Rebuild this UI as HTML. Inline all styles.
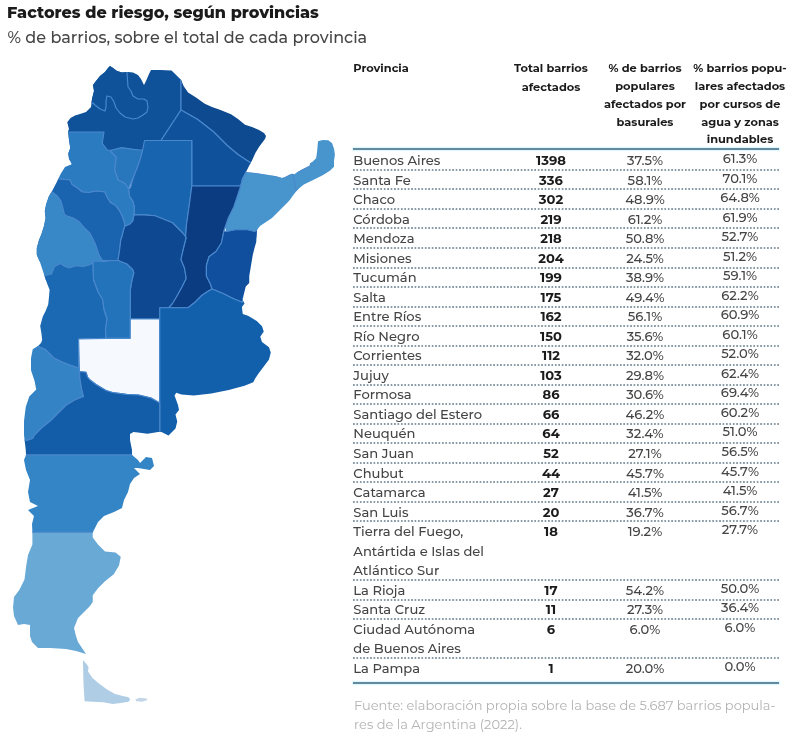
<!DOCTYPE html>
<html lang="es"><head><meta charset="utf-8"><title>Factores de riesgo, según provincias</title>
<style>
*{margin:0;padding:0;box-sizing:border-box}
html,body{width:800px;height:744px;background:#fff;overflow:hidden}
body{position:relative;font-family:"Montserrat","Liberation Sans",sans-serif;color:#333}
.title{position:absolute;left:7.0px;top:3.0px;font-size:16.0px;font-weight:800;color:#1b1b1b;line-height:20px;white-space:nowrap}
.sub{position:absolute;left:7.5px;top:27.4px;font-size:16.05px;font-weight:470;color:#464646;line-height:20px;white-space:nowrap}
.map{position:absolute;left:0;top:0;filter:blur(0.45px)}
.h{position:absolute;font-size:11.4px;font-weight:700;color:#1b1b1b;line-height:18px;white-space:nowrap;text-align:center}
.h1{left:353.2px;text-align:left}
.h2{left:501px;width:100px}
.h3{left:595px;width:100px}
.h4{left:690px;width:100px}
.c1,.c2,.c3,.c4{position:absolute;font-size:13.1px;line-height:19.53px;white-space:nowrap;color:#444;font-weight:500}
.c1{left:353.3px}
.c2{left:501px;width:100px;text-align:center;font-weight:700;color:#1b1b1b}
.c3{left:595px;width:100px;text-align:center}
.c4{left:690px;width:100px;text-align:center}
.dot{position:absolute;left:353px;width:426.5px;height:2px;background-image:linear-gradient(to right,#8a9ba6 56%,rgba(255,255,255,0) 56%);background-size:3.43px 2px}
.rule{position:absolute;left:353px;width:426px;height:2px;background:#638a9f;box-shadow:0 0 1.5px 1px rgba(200,238,246,.7)}
.foot{position:absolute;left:354px;top:696px;font-size:13px;line-height:18.75px;color:#b3b3b3;white-space:nowrap}
</style></head><body>
<svg class="map" width="345" height="720" viewBox="0 0 345 720">
<defs><clipPath id="ar"><polygon points="67.25,122.25 70.5,118 75,115.5 80,114 86,112 91,107 92,99 94,91 93,85 96,81 100,76 105,72 108,68 110,66 113,68 117,71 122,72.5 128,72 133,72.5 138,75 141,79 144,85 146,81 149,74 151,70 160,70 171.5,70.5 174.1,73.1 181.1,80.1 183.75,86.25 188.1,92.4 196,97.6 204.75,103.75 212,107 220.5,109.9 231,114.25 238,119 245,124.75 252,127 259,130 264,133 266,136 265,139 262.5,142.25 259,147 255.5,152.75 252,160.6 249,166 246,172 256,173 270,175.2 275.6,176.1 282.2,178 286.9,175.2 290.7,173.3 294.5,174.2 298.2,171.4 302,168.6 307.6,164.8 312.3,162 316.1,158.2 317,152.6 317.5,146.9 318,141.3 322.7,139.9 328.3,140.3 332.1,143.2 334,148.8 334.9,154.5 334,161 334,166.7 330.2,170.5 322.7,175.2 315.2,178.9 309.5,181.7 303.9,184.6 300.1,187.4 296.3,191.2 292.6,195.9 289.8,200 288,202 284,206 280,210 276,214 272,218 266,222 260,226 257,230 256.5,236 256.25,242 254.5,248 252.75,255 251,265.5 249.25,276 249.25,283 245.75,286.5 244,293.5 243,298 242.75,300 244.5,303.5 241.9,307 242.75,314 248,315.75 256.75,321 262,326.25 263.75,331.5 260.25,336.75 262,342 269,347.25 270.75,352.5 269,359.5 263.75,366.5 258.5,373.5 255,378.75 253.25,382.25 244.5,385.75 228.75,390 211.25,393.6 193.75,395.4 181.5,394.5 176.25,392.75 174.5,395.4 178,405 179,410 175.5,414.5 177.25,421.5 175.5,428.5 168.5,435.5 161.5,432 158,432 147.5,433.75 138,432.5 133.5,432 130,434 130,440 132,450 132,455 138,460 140,463 146,457 152,458 154,466 150,470 144,469 138,468 134,468 140,474 134,478 130,484 128,492 124,500 122,508 114,512 104,516 98,522 94,530 92.75,532.25 92.75,537.5 98,544.5 105,551.5 115.5,552.4 120.75,556.75 119,565.5 113.75,574.25 105,581.25 98,588.25 92.75,595.25 92.75,602 90,606 84,612 78,618 74,628 76,636 78,642 82,648 86,654 76,651 66,649 50,648 38,648 32,642 30,636 30,625 24,624 18,625 14,616 13,607.5 14,597 19.25,590 24.5,579.5 26.25,565.5 28,555 32.4,544.5 32.4,532.25 32,524 34,516 28,510 38,506 30,502 28,492 30,480 26,470 24,460 26,455 25.75,450 24,435 24,421 25.75,407 29.25,396.5 36.25,389.5 34.5,380.75 31,370.25 31,358 32.75,349.25 38,346 41,343 42.2,340 41.5,334 40.2,326 42.8,316.6 45.5,311.2 48.2,304.5 48.9,297.8 49.6,289.7 46.9,283 44.2,275 40.2,262.8 36.8,254.8 36.8,248 39,240 41.5,234 44,226 45.6,218 44.8,211.2 46.1,204.5 48.8,196.5 52.8,189.7 56.9,181.7 60.9,173.6 65,166.9 71.7,164.2 69,158.8 68.3,153.4 70.3,148 69,140 68.1,131 69,129.25"/></clipPath></defs>
<g clip-path="url(#ar)" stroke="#4a88cd" stroke-width="1.15" stroke-linejoin="round">
<polygon fill="#0f5299" points="0,40 181,40 181,110 161,140.5 161,160 0,160"/>
<polygon fill="#0f5299" points="93,103 0,103 0,40 127,40 127,72.5 127.5,80 128,87 131,91 133,96 138,99 144,99 147,101 148,107 147,112 143,115 138,118 133,119 125,117 120,113 116,108 114,102 111,97 107,96 106,101 106,107 105,111 100,109 95,105"/>
<polygon fill="#0d4a90" points="181,40 181,110 197.75,119.5 213.5,131.75 227.5,145.75 238,154.5 248.5,161.5 253.75,165 300,165 300,40"/>
<polygon fill="#10519b" points="181,110 197.75,119.5 213.5,131.75 227.5,145.75 238,154.5 248.5,161.5 253.75,165 256,170 246,172 242.5,179 240.75,186 191.75,186 191.75,140.5 161,140.5"/>
<polygon fill="#4895ce" points="246,172 256,173 270,175 284,178 290,175 300,171 310,166 318,130 345,130 345,240 258,240 254.75,231.5 246,229.5 235.5,229.75 226.75,231.5 225.5,226 228.5,217.5 233.75,207 237.25,196.5 240.75,186 242.5,179"/>
<polygon fill="#1964ae" points="144.5,140.5 191.75,140.5 191.75,186 190,200 188.25,212.25 186.5,224.5 185.6,236.75 183,233.25 177.75,228 172.5,222.75 163.75,219.25 155,215.75 144.5,214.9 134.3,214.9 134.3,206.8 132.9,201.4 129.6,196.7 128.5,188.75 130.5,187.75 132.25,180.75 135.75,170.25 139.25,159.75 142.75,149.25"/>
<polygon fill="#2876bc" points="111,150.25 121.5,147.6 133.75,149.4 142.5,150.25 140.75,157.25 137.25,167.75 132,180 128.5,188.75 125,183.5 118,180 114.5,169.5 116.25,157.25 111,152"/>
<polygon fill="#2b7bc0" points="0,132 104,132 102.25,143.25 107.5,150.25 111,150.25 111,152 116.25,157.25 114.5,169.5 118,180 125,183.5 128.5,188.75 129.6,196.7 132.9,201.4 134.3,206.8 134.3,212.2 133.6,216.9 132.9,220.9 129.6,224.3 124.9,226.3 124.2,221.6 122.2,216.2 119.5,210.8 115.5,205.5 110.8,202.8 107.4,198 104.7,192 96.4,191 88.9,192.5 82.3,192 77.6,188.2 72,184.5 70,180 60,179 0,179"/>
<polygon fill="#1a63ae" points="0,179 60,179 70,180 72,184.5 77.6,188.2 82.3,192 88.9,192.5 96.4,191 104.7,192 107.4,198 110.8,202.8 115.5,205.5 119.5,210.8 122.2,216.2 124.2,221.6 124.9,226.3 123.5,230.3 122.2,235.7 120.8,240 119.75,249 118,260.5 102.25,260.5 0,260.5"/>
<polygon fill="#3887c6" points="0,192 52.2,192 57,195.7 60.7,200.5 62.6,207 64.5,214.6 68.2,216.4 73.9,218.3 79.5,222 84.2,227.7 90,233.25 95.25,243.75 98.75,254.25 102.25,260.4 102.25,280 0,280"/>
<polygon fill="#0e4891" points="134.3,214.9 144.5,214.9 155,215.75 163.75,219.25 172.5,222.75 177.75,228 183,233.25 185.6,236.75 186.25,237.5 182.75,251.5 181,259.5 184.5,268 186.25,278.5 182,287 177.5,295.25 172.25,304 168.75,307.75 160,307.75 160,319 130.25,319 130.25,290.25 132,279.75 133.75,272.75 132.5,269.5 126.75,264 118,260.5 119.75,249 120.8,240 122.2,235.7 123.5,230.3 124.9,226.3 129.6,224.3 132.9,220.9 133.6,216.9"/>
<polygon fill="#0b3b80" points="191.75,186 240.75,186 237.25,196.5 233.75,207 228.5,217.5 225.5,226 223.9,231 221.5,242.75 216,251.5 209,256.75 206.4,265.5 206.4,276 210.75,284.75 212,289 207.25,291.75 202,295.25 195,302.25 188,307.75 168.75,307.75 172.25,304 177.5,295.25 182,287 186.25,278.5 184.5,268 181,259.5 182.75,251.5 186.25,237.5 185.6,236.75 186.5,224.5 188.25,212.25 190,200"/>
<polygon fill="#0f4f9e" points="223.9,231 226.75,231.5 235.5,229.75 246,229.5 254.75,231.5 257,230 300,232 300,300 243,298 242.25,302.25 233.5,298.75 223,293.5 212,289 210.75,284.75 206.4,276 206.4,265.5 209,256.75 216,251.5 221.5,242.75"/>
<polygon fill="#2373ba" points="92.75,261.25 104,261.25 113,260.5 118,260.5 126.75,264 132.5,269.5 133.75,272.75 132,279.75 130.25,290.25 130.25,338.4 105.75,338.4 105.5,328 107,319 104,310 102.5,299.5 98,292 93.5,280"/>
<polygon fill="#1a69b2" points="0,275.5 45.5,275.5 51.5,274 54.5,266.5 60.5,263.5 65,266.5 69.5,268 75.5,265.75 83,266.5 89,265 92,263.5 92.75,261.25 93.5,280 98,292 102.5,299.5 104,310 107,319 105.5,328 105.75,338.4 78.6,339 78.6,368 69.5,365 60.75,361.5 53.75,358 45,349.25 36.25,345.75 0,345"/>
<polygon fill="#f6fafe" points="130.25,319 159.75,319 159.75,403 151,398 138.75,395 126.5,394.4 112.5,392.5 106,390.5 96,384.5 90,380 87.5,377 86,372.2 79.5,371.5 78.6,339 105.75,338.4 130.25,338.4"/>
<polygon fill="#125fab" points="159.75,307.75 188,307.75 195,302.25 202,295.25 207.25,291.75 212,289 223,293.5 233.5,298.75 242.25,302.25 243,298 330,298 330,445 159.75,445"/>
<polygon fill="#3484c5" points="0,345.75 36.25,345.75 45,349.25 53.75,358 60.75,361.5 69.5,365 78.6,368 79.5,371.5 80,379 81.75,389.5 83.5,396.5 74.75,400 66,405.25 57.25,414 50.25,421 41.5,428 34.5,435 32.75,438.5 27.5,440.25 0,440"/>
<polygon fill="#135ca8" points="0,440 27.5,440.25 32.75,438.5 34.5,435 41.5,428 50.25,421 57.25,414 66,405.25 74.75,400 83.5,396.5 81.75,389.5 80,379 79.5,371.5 86,372.2 87.5,377 90,380 96,384.5 106,390.5 112.5,392.5 126.5,394.4 138.75,395 151,398 159.75,403 159.75,455 0,455"/>
<polygon fill="#3385c5" points="0,455 200,455 200,532.25 0,532.25"/>
<polygon fill="#68a9d6" points="0,532.25 200,532.25 200,670 0,670"/>
<polyline fill="none" points="292.6,174.5 295.4,186.4 296.3,191"/>
</g>
<polygon fill="#b0cde6" points="82.9,660.1 86.9,664.6 88.6,666.9 88,671.4 92.5,678.1 99.2,683.7 107.1,689.4 115,693.9 122.9,696.1 128.5,697.2 130.2,699.5 128.5,701.7 120.6,702.9 112.7,704 103.7,702.3 92.5,701.7 84.6,701.2 83.5,683.7"/>
<polygon fill="#c3d5e6" points="135.2,699.5 139.7,697.8 146.5,698.4 147.6,700.1 142,701.7 136.4,701.2"/>
</svg>
<div class="title">Factores de riesgo, según provincias</div>
<div class="sub">% de barrios, sobre el total de cada provincia</div>
<div class="h h1" style="top:59.31px">Provincia</div>
<div class="h h2" style="top:59.21px">Total barrios</div>
<div class="h h2" style="top:78.11px">afectados</div>
<div class="h h3" style="top:58.91px">% de barrios</div>
<div class="h h3" style="top:76.51px">populares</div>
<div class="h h3" style="top:94.51px">afectados por</div>
<div class="h h3" style="top:112.51px">basurales</div>
<div class="h h4" style="top:58.91px">% barrios popu-</div>
<div class="h h4" style="top:76.51px">lares afectados</div>
<div class="h h4" style="top:94.51px">por cursos de</div>
<div class="h h4" style="top:112.51px">agua y zonas</div>
<div class="h h4" style="top:130.31px">inundables</div>
<div class="rule" style="top:148.2px"></div>
<div class="c1" style="top:151.04px">Buenos Aires</div>
<div class="c2" style="top:151.04px">1398</div>
<div class="c3" style="top:151.04px">37.5%</div>
<div class="c4" style="top:149.04px">61.3%</div>
<div class="dot" style="top:168.90px"></div>
<div class="c1" style="top:170.57px">Santa Fe</div>
<div class="c2" style="top:170.57px">336</div>
<div class="c3" style="top:170.57px">58.1%</div>
<div class="c4" style="top:168.57px">70.1%</div>
<div class="dot" style="top:188.43px"></div>
<div class="c1" style="top:190.10px">Chaco</div>
<div class="c2" style="top:190.10px">302</div>
<div class="c3" style="top:190.10px">48.9%</div>
<div class="c4" style="top:188.10px">64.8%</div>
<div class="dot" style="top:207.96px"></div>
<div class="c1" style="top:209.63px">Córdoba</div>
<div class="c2" style="top:209.63px">219</div>
<div class="c3" style="top:209.63px">61.2%</div>
<div class="c4" style="top:207.63px">61.9%</div>
<div class="dot" style="top:227.49px"></div>
<div class="c1" style="top:229.16px">Mendoza</div>
<div class="c2" style="top:229.16px">218</div>
<div class="c3" style="top:229.16px">50.8%</div>
<div class="c4" style="top:227.16px">52.7%</div>
<div class="dot" style="top:247.02px"></div>
<div class="c1" style="top:248.69px">Misiones</div>
<div class="c2" style="top:248.69px">204</div>
<div class="c3" style="top:248.69px">24.5%</div>
<div class="c4" style="top:246.69px">51.2%</div>
<div class="dot" style="top:266.55px"></div>
<div class="c1" style="top:268.22px">Tucumán</div>
<div class="c2" style="top:268.22px">199</div>
<div class="c3" style="top:268.22px">38.9%</div>
<div class="c4" style="top:266.22px">59.1%</div>
<div class="dot" style="top:286.08px"></div>
<div class="c1" style="top:287.75px">Salta</div>
<div class="c2" style="top:287.75px">175</div>
<div class="c3" style="top:287.75px">49.4%</div>
<div class="c4" style="top:285.75px">62.2%</div>
<div class="dot" style="top:305.61px"></div>
<div class="c1" style="top:307.28px">Entre Ríos</div>
<div class="c2" style="top:307.28px">162</div>
<div class="c3" style="top:307.28px">56.1%</div>
<div class="c4" style="top:305.28px">60.9%</div>
<div class="dot" style="top:325.14px"></div>
<div class="c1" style="top:326.81px">Río Negro</div>
<div class="c2" style="top:326.81px">150</div>
<div class="c3" style="top:326.81px">35.6%</div>
<div class="c4" style="top:324.81px">60.1%</div>
<div class="dot" style="top:344.67px"></div>
<div class="c1" style="top:346.34px">Corrientes</div>
<div class="c2" style="top:346.34px">112</div>
<div class="c3" style="top:346.34px">32.0%</div>
<div class="c4" style="top:344.34px">52.0%</div>
<div class="dot" style="top:364.20px"></div>
<div class="c1" style="top:365.87px">Jujuy</div>
<div class="c2" style="top:365.87px">103</div>
<div class="c3" style="top:365.87px">29.8%</div>
<div class="c4" style="top:363.87px">62.4%</div>
<div class="dot" style="top:383.73px"></div>
<div class="c1" style="top:385.40px">Formosa</div>
<div class="c2" style="top:385.40px">86</div>
<div class="c3" style="top:385.40px">30.6%</div>
<div class="c4" style="top:383.40px">69.4%</div>
<div class="dot" style="top:403.26px"></div>
<div class="c1" style="top:404.93px">Santiago del Estero</div>
<div class="c2" style="top:404.93px">66</div>
<div class="c3" style="top:404.93px">46.2%</div>
<div class="c4" style="top:402.93px">60.2%</div>
<div class="dot" style="top:422.79px"></div>
<div class="c1" style="top:424.46px">Neuquén</div>
<div class="c2" style="top:424.46px">64</div>
<div class="c3" style="top:424.46px">32.4%</div>
<div class="c4" style="top:422.46px">51.0%</div>
<div class="dot" style="top:442.32px"></div>
<div class="c1" style="top:443.99px">San Juan</div>
<div class="c2" style="top:443.99px">52</div>
<div class="c3" style="top:443.99px">27.1%</div>
<div class="c4" style="top:441.99px">56.5%</div>
<div class="dot" style="top:461.85px"></div>
<div class="c1" style="top:463.52px">Chubut</div>
<div class="c2" style="top:463.52px">44</div>
<div class="c3" style="top:463.52px">45.7%</div>
<div class="c4" style="top:461.52px">45.7%</div>
<div class="dot" style="top:481.38px"></div>
<div class="c1" style="top:483.05px">Catamarca</div>
<div class="c2" style="top:483.05px">27</div>
<div class="c3" style="top:483.05px">41.5%</div>
<div class="c4" style="top:481.05px">41.5%</div>
<div class="dot" style="top:500.91px"></div>
<div class="c1" style="top:502.58px">San Luis</div>
<div class="c2" style="top:502.58px">20</div>
<div class="c3" style="top:502.58px">36.7%</div>
<div class="c4" style="top:500.58px">56.7%</div>
<div class="dot" style="top:520.44px"></div>
<div class="c1" style="top:522.11px">Tierra del Fuego,<br>Antártida e Islas del<br>Atlántico Sur</div>
<div class="c2" style="top:522.11px">18</div>
<div class="c3" style="top:522.11px">19.2%</div>
<div class="c4" style="top:520.11px">27.7%</div>
<div class="dot" style="top:579.03px"></div>
<div class="c1" style="top:580.70px">La Rioja</div>
<div class="c2" style="top:580.70px">17</div>
<div class="c3" style="top:580.70px">54.2%</div>
<div class="c4" style="top:578.70px">50.0%</div>
<div class="dot" style="top:598.56px"></div>
<div class="c1" style="top:600.23px">Santa Cruz</div>
<div class="c2" style="top:600.23px">11</div>
<div class="c3" style="top:600.23px">27.3%</div>
<div class="c4" style="top:598.23px">36.4%</div>
<div class="dot" style="top:618.09px"></div>
<div class="c1" style="top:619.76px">Ciudad Autónoma<br>de Buenos Aires</div>
<div class="c2" style="top:619.76px">6</div>
<div class="c3" style="top:619.76px">6.0%</div>
<div class="c4" style="top:617.76px">6.0%</div>
<div class="dot" style="top:657.15px"></div>
<div class="c1" style="top:658.82px">La Pampa</div>
<div class="c2" style="top:658.82px">1</div>
<div class="c3" style="top:658.82px">20.0%</div>
<div class="c4" style="top:656.82px">0.0%</div>
<div class="rule" style="top:682.2px"></div>
<div class="foot">Fuente: elaboración propia sobre la base de 5.687 barrios popula-<br>res de la Argentina (2022).</div>
</body></html>
